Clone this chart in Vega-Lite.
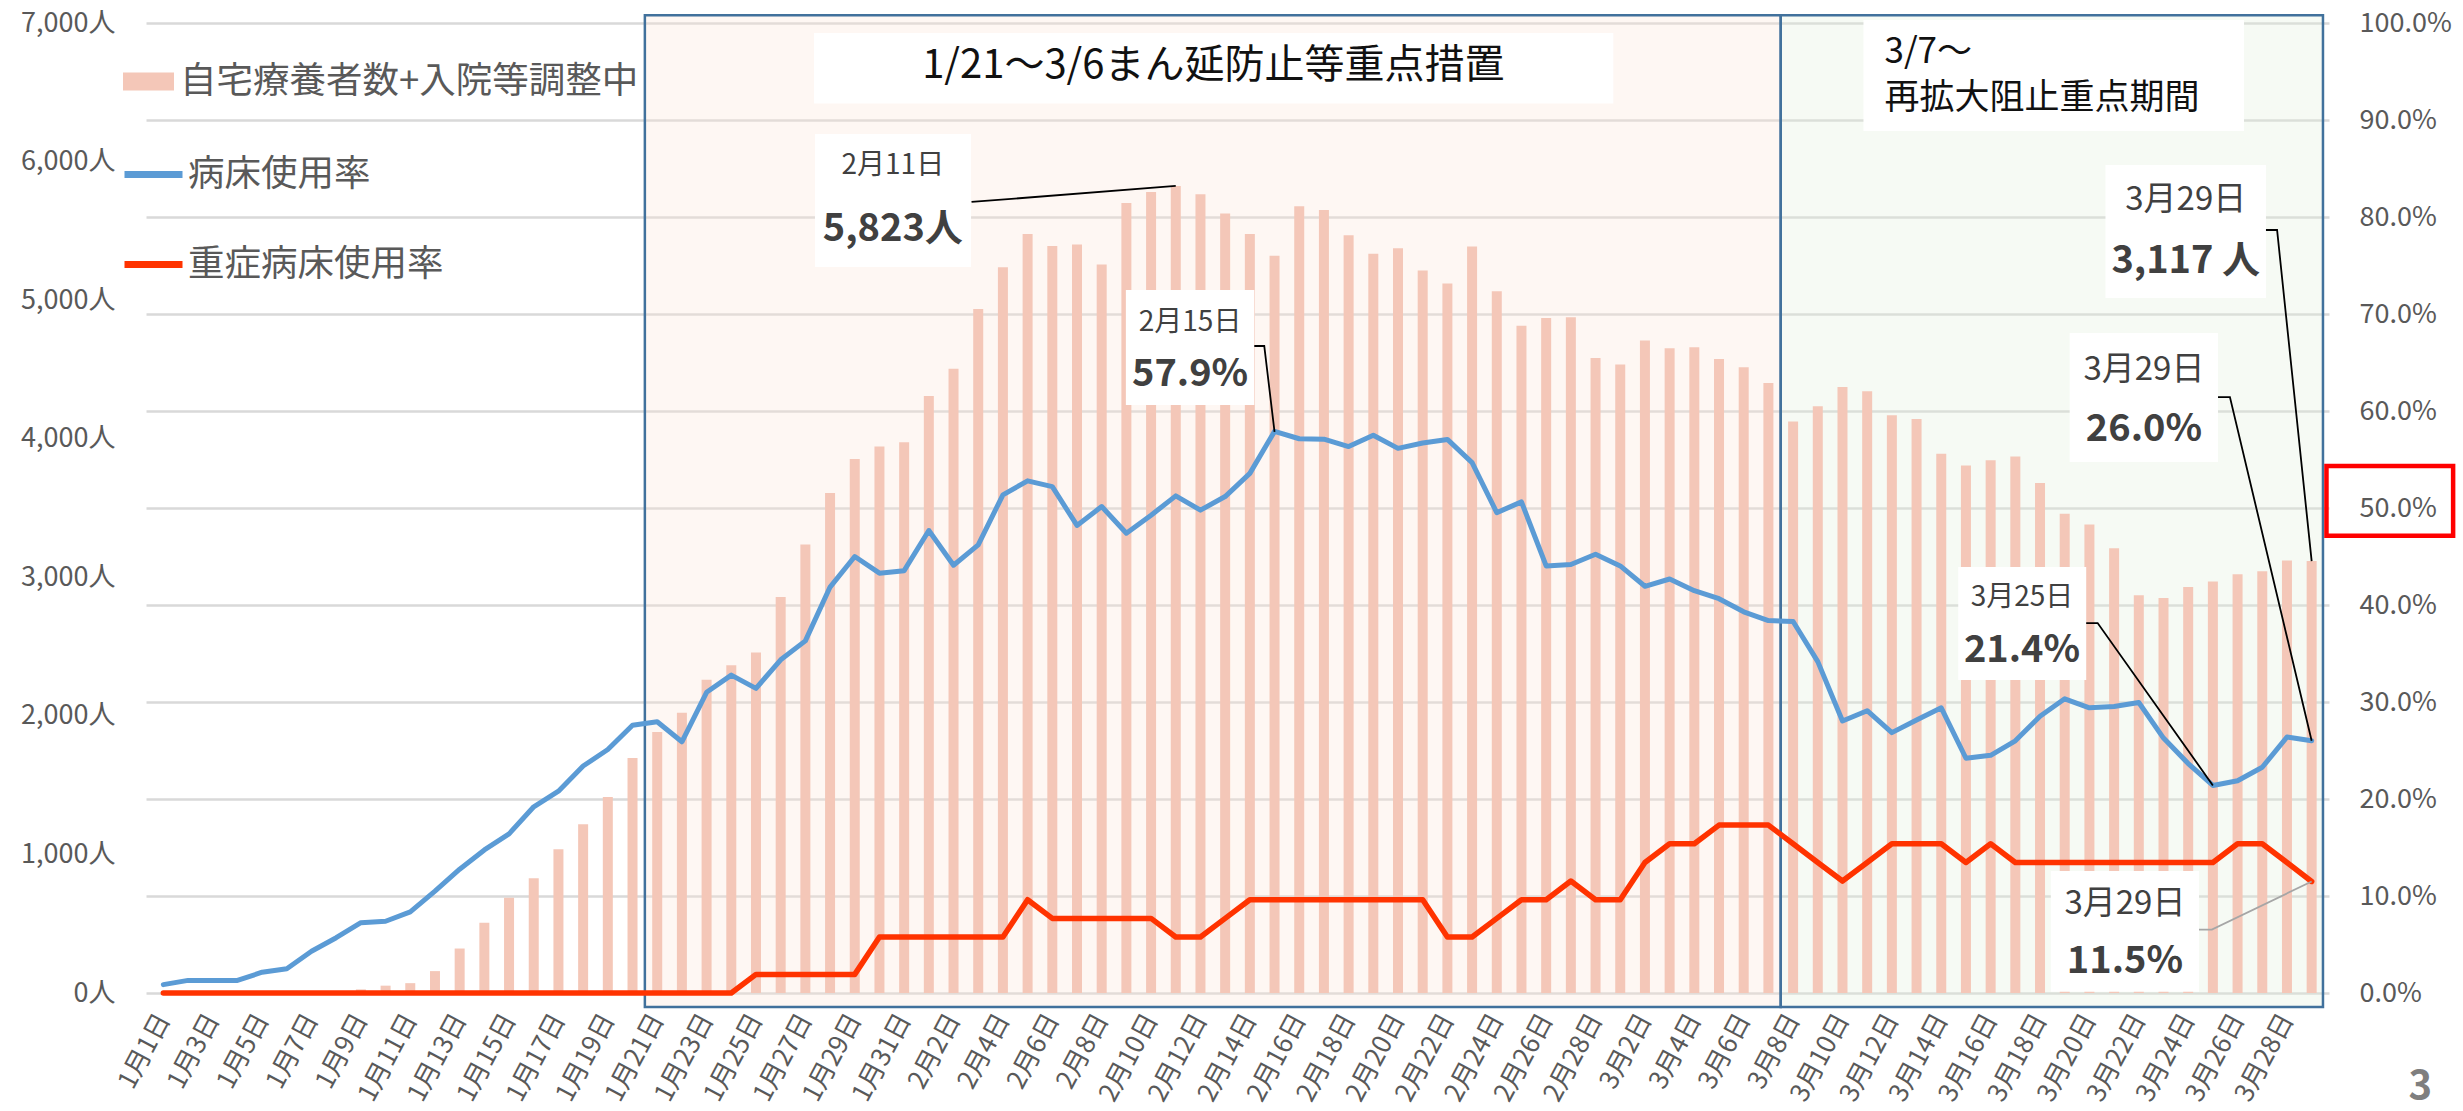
{
  "$schema": "https://vega.github.io/schema/vega-lite/v6.json",
  "width": 2183,
  "height": 970,
  "autosize": {"type": "none"},
  "padding": {"left": 146, "top": 23, "right": 134, "bottom": 118},
  "background": "white",
  "config": {"font": "Noto Sans CJK JP", "view": {"stroke": null}},
  "datasets": {
    "daily": [
      {"date": "2021-01-01", "n": 0, "bed": 0.0086, "severe": 0},
      {"date": "2021-01-02", "n": 0, "bed": 0.013, "severe": 0},
      {"date": "2021-01-03", "n": 0, "bed": 0.013, "severe": 0},
      {"date": "2021-01-04", "n": 0, "bed": 0.013, "severe": 0},
      {"date": "2021-01-05", "n": 0, "bed": 0.0214, "severe": 0},
      {"date": "2021-01-06", "n": 0, "bed": 0.025, "severe": 0},
      {"date": "2021-01-07", "n": 0, "bed": 0.043, "severe": 0},
      {"date": "2021-01-08", "n": 0, "bed": 0.057, "severe": 0},
      {"date": "2021-01-09", "n": 26, "bed": 0.0725, "severe": 0},
      {"date": "2021-01-10", "n": 53, "bed": 0.074, "severe": 0},
      {"date": "2021-01-11", "n": 71, "bed": 0.0837, "severe": 0},
      {"date": "2021-01-12", "n": 158, "bed": 0.105, "severe": 0},
      {"date": "2021-01-13", "n": 321, "bed": 0.1276, "severe": 0},
      {"date": "2021-01-14", "n": 507, "bed": 0.1475, "severe": 0},
      {"date": "2021-01-15", "n": 688, "bed": 0.164, "severe": 0},
      {"date": "2021-01-16", "n": 828, "bed": 0.192, "severe": 0},
      {"date": "2021-01-17", "n": 1038, "bed": 0.208, "severe": 0},
      {"date": "2021-01-18", "n": 1217, "bed": 0.234, "severe": 0},
      {"date": "2021-01-19", "n": 1414, "bed": 0.251, "severe": 0},
      {"date": "2021-01-20", "n": 1695, "bed": 0.276, "severe": 0},
      {"date": "2021-01-21", "n": 1884, "bed": 0.2797, "severe": 0},
      {"date": "2021-01-22", "n": 2023, "bed": 0.259, "severe": 0},
      {"date": "2021-01-23", "n": 2260, "bed": 0.31, "severe": 0},
      {"date": "2021-01-24", "n": 2365, "bed": 0.3277, "severe": 0},
      {"date": "2021-01-25", "n": 2457, "bed": 0.314, "severe": 0.0192},
      {"date": "2021-01-26", "n": 2857, "bed": 0.3435, "severe": 0.0192},
      {"date": "2021-01-27", "n": 3237, "bed": 0.363, "severe": 0.0192},
      {"date": "2021-01-28", "n": 3608, "bed": 0.4185, "severe": 0.0192},
      {"date": "2021-01-29", "n": 3853, "bed": 0.45, "severe": 0.0192},
      {"date": "2021-01-30", "n": 3943, "bed": 0.4328, "severe": 0.0577},
      {"date": "2021-01-31", "n": 3974, "bed": 0.4354, "severe": 0.0577},
      {"date": "2021-02-01", "n": 4309, "bed": 0.4768, "severe": 0.0577},
      {"date": "2021-02-02", "n": 4505, "bed": 0.441, "severe": 0.0577},
      {"date": "2021-02-03", "n": 4936, "bed": 0.462, "severe": 0.0577},
      {"date": "2021-02-04", "n": 5237, "bed": 0.5136, "severe": 0.0577},
      {"date": "2021-02-05", "n": 5477, "bed": 0.528, "severe": 0.0962},
      {"date": "2021-02-06", "n": 5391, "bed": 0.522, "severe": 0.0769},
      {"date": "2021-02-07", "n": 5401, "bed": 0.482, "severe": 0.0769},
      {"date": "2021-02-08", "n": 5258, "bed": 0.5015, "severe": 0.0769},
      {"date": "2021-02-09", "n": 5701, "bed": 0.474, "severe": 0.0769},
      {"date": "2021-02-10", "n": 5781, "bed": 0.4926, "severe": 0.0769},
      {"date": "2021-02-11", "n": 5823, "bed": 0.5125, "severe": 0.0577},
      {"date": "2021-02-12", "n": 5765, "bed": 0.4978, "severe": 0.0577},
      {"date": "2021-02-13", "n": 5626, "bed": 0.5118, "severe": 0.0769},
      {"date": "2021-02-14", "n": 5477, "bed": 0.5357, "severe": 0.0962},
      {"date": "2021-02-15", "n": 5321, "bed": 0.579, "severe": 0.0962},
      {"date": "2021-02-16", "n": 5678, "bed": 0.5714, "severe": 0.0962},
      {"date": "2021-02-17", "n": 5651, "bed": 0.571, "severe": 0.0962},
      {"date": "2021-02-18", "n": 5469, "bed": 0.5633, "severe": 0.0962},
      {"date": "2021-02-19", "n": 5335, "bed": 0.575, "severe": 0.0962},
      {"date": "2021-02-20", "n": 5374, "bed": 0.5615, "severe": 0.0962},
      {"date": "2021-02-21", "n": 5214, "bed": 0.567, "severe": 0.0962},
      {"date": "2021-02-22", "n": 5121, "bed": 0.5707, "severe": 0.0577},
      {"date": "2021-02-23", "n": 5387, "bed": 0.5468, "severe": 0.0577},
      {"date": "2021-02-24", "n": 5065, "bed": 0.4952, "severe": 0.0769},
      {"date": "2021-02-25", "n": 4815, "bed": 0.5063, "severe": 0.0962},
      {"date": "2021-02-26", "n": 4871, "bed": 0.4403, "severe": 0.0962},
      {"date": "2021-02-27", "n": 4876, "bed": 0.4418, "severe": 0.1154},
      {"date": "2021-02-28", "n": 4582, "bed": 0.4523, "severe": 0.0962},
      {"date": "2021-03-01", "n": 4536, "bed": 0.4403, "severe": 0.0962},
      {"date": "2021-03-02", "n": 4709, "bed": 0.4193, "severe": 0.1346},
      {"date": "2021-03-03", "n": 4652, "bed": 0.4268, "severe": 0.1538},
      {"date": "2021-03-04", "n": 4660, "bed": 0.4148, "severe": 0.1538},
      {"date": "2021-03-05", "n": 4575, "bed": 0.4065, "severe": 0.1731},
      {"date": "2021-03-06", "n": 4515, "bed": 0.393, "severe": 0.1731},
      {"date": "2021-03-07", "n": 4402, "bed": 0.384, "severe": 0.1731},
      {"date": "2021-03-08", "n": 4124, "bed": 0.383, "severe": 0.1538},
      {"date": "2021-03-09", "n": 4234, "bed": 0.3416, "severe": 0.1346},
      {"date": "2021-03-10", "n": 4374, "bed": 0.2804, "severe": 0.1154},
      {"date": "2021-03-11", "n": 4343, "bed": 0.291, "severe": 0.1346},
      {"date": "2021-03-12", "n": 4170, "bed": 0.2684, "severe": 0.1538},
      {"date": "2021-03-13", "n": 4142, "bed": 0.2815, "severe": 0.1538},
      {"date": "2021-03-14", "n": 3892, "bed": 0.294, "severe": 0.1538},
      {"date": "2021-03-15", "n": 3807, "bed": 0.242, "severe": 0.1346},
      {"date": "2021-03-16", "n": 3845, "bed": 0.245, "severe": 0.1538},
      {"date": "2021-03-17", "n": 3871, "bed": 0.26, "severe": 0.1346},
      {"date": "2021-03-18", "n": 3680, "bed": 0.2853, "severe": 0.1346},
      {"date": "2021-03-19", "n": 3459, "bed": 0.3033, "severe": 0.1346},
      {"date": "2021-03-20", "n": 3381, "bed": 0.294, "severe": 0.1346},
      {"date": "2021-03-21", "n": 3209, "bed": 0.2954, "severe": 0.1346},
      {"date": "2021-03-22", "n": 2871, "bed": 0.2995, "severe": 0.1346},
      {"date": "2021-03-23", "n": 2851, "bed": 0.2628, "severe": 0.1346},
      {"date": "2021-03-24", "n": 2930, "bed": 0.2365, "severe": 0.1346},
      {"date": "2021-03-25", "n": 2969, "bed": 0.214, "severe": 0.1346},
      {"date": "2021-03-26", "n": 3022, "bed": 0.2188, "severe": 0.1538},
      {"date": "2021-03-27", "n": 3043, "bed": 0.2327, "severe": 0.1538},
      {"date": "2021-03-28", "n": 3122, "bed": 0.2639, "severe": 0.1346},
      {"date": "2021-03-29", "n": 3117, "bed": 0.26, "severe": 0.115}
    ],
    "boxes": [
      {"x1": "2021-01-27T08:24:00Z", "x2": "2021-02-28T17:17:00Z", "y1": 0.9897, "y2": 0.9169},
      {"x1": "2021-03-10T20:24:00Z", "x2": "2021-03-26T06:14:00Z", "y1": 1.003, "y2": 0.8887},
      {"x1": "2021-01-27T09:20:00Z", "x2": "2021-02-02T17:02:00Z", "y1": 0.8856, "y2": 0.7485},
      {"x1": "2021-02-08T23:30:00Z", "x2": "2021-02-14T04:20:00Z", "y1": 0.7247, "y2": 0.6062},
      {"x1": "2021-03-20T15:36:00Z", "x2": "2021-03-27T03:36:00Z", "y1": 0.8536, "y2": 0.7165},
      {"x1": "2021-03-19T04:48:00Z", "x2": "2021-03-25T05:00:00Z", "y1": 0.6804, "y2": 0.5474},
      {"x1": "2021-03-14T16:30:00Z", "x2": "2021-03-19T20:53:00Z", "y1": 0.4392, "y2": 0.3227},
      {"x1": "2021-03-18T10:30:00Z", "x2": "2021-03-24T10:30:00Z", "y1": 0.1258, "y2": 0.0014}
    ],
    "callouts": [
      {"g": "c", "o": 1, "x": "2021-02-02T17:30:00Z", "y": 0.8155},
      {"g": "c", "o": 2, "x": "2021-02-11T00:00:00Z", "y": 0.832},
      {"g": "d", "o": 1, "x": "2021-02-14T04:20:00Z", "y": 0.667},
      {"g": "d", "o": 2, "x": "2021-02-14T14:00:00Z", "y": 0.667},
      {"g": "d", "o": 3, "x": "2021-02-15T00:00:00Z", "y": 0.5784},
      {"g": "e", "o": 1, "x": "2021-03-27T03:36:00Z", "y": 0.7866},
      {"g": "e", "o": 2, "x": "2021-03-27T14:24:00Z", "y": 0.7866},
      {"g": "e", "o": 3, "x": "2021-03-29T00:00:00Z", "y": 0.4453},
      {"g": "f", "o": 1, "x": "2021-03-25T05:00:00Z", "y": 0.6144},
      {"g": "f", "o": 2, "x": "2021-03-25T16:34:00Z", "y": 0.6144},
      {"g": "f", "o": 3, "x": "2021-03-29T00:00:00Z", "y": 0.26},
      {"g": "g", "o": 1, "x": "2021-03-19T20:53:00Z", "y": 0.3814},
      {"g": "g", "o": 2, "x": "2021-03-20T08:00:00Z", "y": 0.3814},
      {"g": "g", "o": 3, "x": "2021-03-25T00:00:00Z", "y": 0.214}
    ],
    "calloutGray": [
      {"o": 1, "x": "2021-03-24T10:30:00Z", "y": 0.0653},
      {"o": 2, "x": "2021-03-24T23:00:00Z", "y": 0.0653},
      {"o": 3, "x": "2021-03-29T00:00:00Z", "y": 0.115}
    ],
    "titleMain": [
      {"x": "2021-02-12T12:30:00Z", "y": 0.9557, "t": "1/21〜3/6まん延防止等重点措置"}
    ],
    "titleSub": [
      {"x": "2021-03-11T16:48:00Z", "y": 0.9705, "t": "3/7〜"},
      {"x": "2021-03-11T16:48:00Z", "y": 0.9225, "t": "再拡大阻止重点期間"}
    ],
    "dateSmall": [
      {"x": "2021-01-30T13:00:00Z", "y": 0.8526, "t": "2月11日"},
      {"x": "2021-02-11T13:55:00Z", "y": 0.6907, "t": "2月15日"},
      {"x": "2021-03-17T06:30:00Z", "y": 0.4072, "t": "3月25日"}
    ],
    "dateBig": [
      {"x": "2021-03-23T21:36:00Z", "y": 0.8175, "t": "3月29日"},
      {"x": "2021-03-22T05:00:00Z", "y": 0.6423, "t": "3月29日"},
      {"x": "2021-03-21T10:30:00Z", "y": 0.0918, "t": "3月29日"}
    ],
    "values": [
      {"x": "2021-01-30T13:00:00Z", "y": 0.7866, "t": "5,823人"},
      {"x": "2021-02-11T13:55:00Z", "y": 0.6371, "t": "57.9%"},
      {"x": "2021-03-23T21:36:00Z", "y": 0.7536, "t": "3,117 人"},
      {"x": "2021-03-22T05:00:00Z", "y": 0.5804, "t": "26.0%"},
      {"x": "2021-03-17T06:30:00Z", "y": 0.3526, "t": "21.4%"},
      {"x": "2021-03-21T10:30:00Z", "y": 0.032, "t": "11.5%"}
    ]
  },
  "layer": [
    {
      "layer": [
        {
          "data": {"values": [{"start": "2021-01-20T12:00:00Z", "end": "2021-03-07T12:00:00Z"}]},
          "mark": {"type": "rect", "fill": "#FBE5D6", "fillOpacity": 0.3, "stroke": "#41719C", "strokeWidth": 2.5},
          "encoding": {
            "x": {"field": "start", "type": "temporal", "title": null},
            "x2": {"field": "end", "title": null},
            "y": {"datum": 7056, "type": "quantitative"},
            "y2": {"datum": -101}
          }
        },
        {
          "data": {"values": [{"start": "2021-03-07T12:00:00Z", "end": "2021-03-29T11:00:00Z"}]},
          "mark": {"type": "rect", "fill": "#E2EFDA", "fillOpacity": 0.3, "stroke": "#41719C", "strokeWidth": 2.5},
          "encoding": {
            "x": {"field": "start", "type": "temporal", "title": null},
            "x2": {"field": "end", "title": null},
            "y": {"datum": 7056, "type": "quantitative"},
            "y2": {"datum": -101}
          }
        },
        {
          "data": {"name": "daily"},
          "mark": {"type": "bar", "size": 10},
          "encoding": {
            "x": {
              "field": "date", "type": "temporal", "title": null,
              "scale": {"type": "utc", "domain": [{"year": 2020, "month": 12, "date": 31, "hours": 12, "utc": true}, {"year": 2021, "month": 3, "date": 29, "hours": 12, "utc": true}]},
              "axis": {
                "title": null, "format": "%-m月%-d日", "labelAngle": -62, "labelFontSize": 26, "labelColor": "#595959",
                "domain": false, "ticks": false, "grid": false, "labelPadding": 22, "labelOverlap": false,
                "values": [
                  {"year": 2021, "month": 1, "date": 1, "utc": true}, {"year": 2021, "month": 1, "date": 3, "utc": true},
                  {"year": 2021, "month": 1, "date": 5, "utc": true}, {"year": 2021, "month": 1, "date": 7, "utc": true},
                  {"year": 2021, "month": 1, "date": 9, "utc": true}, {"year": 2021, "month": 1, "date": 11, "utc": true},
                  {"year": 2021, "month": 1, "date": 13, "utc": true}, {"year": 2021, "month": 1, "date": 15, "utc": true},
                  {"year": 2021, "month": 1, "date": 17, "utc": true}, {"year": 2021, "month": 1, "date": 19, "utc": true},
                  {"year": 2021, "month": 1, "date": 21, "utc": true}, {"year": 2021, "month": 1, "date": 23, "utc": true},
                  {"year": 2021, "month": 1, "date": 25, "utc": true}, {"year": 2021, "month": 1, "date": 27, "utc": true},
                  {"year": 2021, "month": 1, "date": 29, "utc": true}, {"year": 2021, "month": 1, "date": 31, "utc": true},
                  {"year": 2021, "month": 2, "date": 2, "utc": true}, {"year": 2021, "month": 2, "date": 4, "utc": true},
                  {"year": 2021, "month": 2, "date": 6, "utc": true}, {"year": 2021, "month": 2, "date": 8, "utc": true},
                  {"year": 2021, "month": 2, "date": 10, "utc": true}, {"year": 2021, "month": 2, "date": 12, "utc": true},
                  {"year": 2021, "month": 2, "date": 14, "utc": true}, {"year": 2021, "month": 2, "date": 16, "utc": true},
                  {"year": 2021, "month": 2, "date": 18, "utc": true}, {"year": 2021, "month": 2, "date": 20, "utc": true},
                  {"year": 2021, "month": 2, "date": 22, "utc": true}, {"year": 2021, "month": 2, "date": 24, "utc": true},
                  {"year": 2021, "month": 2, "date": 26, "utc": true}, {"year": 2021, "month": 2, "date": 28, "utc": true},
                  {"year": 2021, "month": 3, "date": 2, "utc": true}, {"year": 2021, "month": 3, "date": 4, "utc": true},
                  {"year": 2021, "month": 3, "date": 6, "utc": true}, {"year": 2021, "month": 3, "date": 8, "utc": true},
                  {"year": 2021, "month": 3, "date": 10, "utc": true}, {"year": 2021, "month": 3, "date": 12, "utc": true},
                  {"year": 2021, "month": 3, "date": 14, "utc": true}, {"year": 2021, "month": 3, "date": 16, "utc": true},
                  {"year": 2021, "month": 3, "date": 18, "utc": true}, {"year": 2021, "month": 3, "date": 20, "utc": true},
                  {"year": 2021, "month": 3, "date": 22, "utc": true}, {"year": 2021, "month": 3, "date": 24, "utc": true},
                  {"year": 2021, "month": 3, "date": 26, "utc": true}, {"year": 2021, "month": 3, "date": 28, "utc": true}
                ]
              }
            },
            "y": {
              "field": "n", "type": "quantitative", "title": null,
              "scale": {"domain": [0, 7000], "nice": false},
              "axis": {
                "orient": "left", "title": null, "values": [0, 1000, 2000, 3000, 4000, 5000, 6000, 7000],
                "labelExpr": "format(datum.value, ',') + '人'", "grid": false, "domain": false, "ticks": false,
                "labelPadding": 31, "labelFontSize": 27, "labelColor": "#595959"
              }
            },
            "fill": {
              "datum": "自宅療養者数+入院等調整中",
              "scale": {"range": ["#F4C7B8"]},
              "legend": {
                "orient": "none", "legendX": -23, "legendY": 33, "title": null, "padding": 0,
                "symbolType": "M-1,-0.35H1V0.35H-1Z", "symbolSize": 2601, "symbolStrokeWidth": 0,
                "labelFontSize": 36.5, "labelColor": "#595959", "labelOffset": 6, "labelLimit": 1000
              }
            }
          }
        }
      ]
    },
    {
      "layer": [
        {
          "mark": {"type": "rule", "color": "#BFBFBF", "strokeWidth": 5},
          "encoding": {"y": {"datum": 0, "type": "quantitative"}}
        },
        {
          "mark": {"type": "rule", "color": "#FF0000", "strokeWidth": 6, "strokeDash": [27, 20]},
          "encoding": {
            "x": {"datum": {"year": 2021, "month": 1, "date": 1, "utc": true}, "type": "temporal"},
            "x2": {"datum": {"year": 2021, "month": 3, "date": 29, "hours": 12, "utc": true}},
            "y": {"datum": 0.506, "type": "quantitative"}
          }
        },
        {
          "data": {"name": "daily"},
          "mark": {"type": "line", "strokeWidth": 5, "strokeJoin": "round", "strokeCap": "round"},
          "encoding": {
            "x": {"field": "date", "type": "temporal", "title": null},
            "y": {
              "field": "bed", "type": "quantitative", "title": null,
              "scale": {"domain": [0, 1], "nice": false},
              "axis": {
                "orient": "right", "title": null, "values": [0, 0.1, 0.2, 0.3, 0.4, 0.5, 0.6, 0.7, 0.8, 0.9, 1],
                "format": ".1%", "grid": true, "gridColor": "#D9D9D9", "gridWidth": 2.5,
                "domain": false, "ticks": false, "labelPadding": 30, "labelFontSize": 27, "labelColor": "#595959"
              }
            },
            "stroke": {
              "datum": "病床使用率",
              "scale": {"domain": ["病床使用率", "重症病床使用率"], "range": ["#5B9BD5", "#FF3300"]},
              "legend": {
                "orient": "none", "legendX": -25, "legendY": 119, "title": null, "padding": 0,
                "symbolType": "stroke", "symbolSize": 3364, "symbolStrokeWidth": 7,
                "labelFontSize": 36.5, "labelColor": "#595959", "labelOffset": 2, "labelLimit": 1000, "rowPadding": 39
              }
            }
          }
        },
        {
          "data": {"name": "daily"},
          "mark": {"type": "line", "strokeWidth": 5.5, "strokeJoin": "round", "strokeCap": "round"},
          "encoding": {
            "x": {"field": "date", "type": "temporal", "title": null},
            "y": {"field": "severe", "type": "quantitative", "title": null},
            "stroke": {"datum": "重症病床使用率"}
          }
        },
        {
          "data": {"name": "boxes"},
          "mark": {"type": "rect", "fill": "white"},
          "encoding": {
            "x": {"field": "x1", "type": "temporal", "title": null},
            "x2": {"field": "x2", "title": null},
            "y": {"field": "y1", "type": "quantitative", "title": null},
            "y2": {"field": "y2", "title": null}
          }
        },
        {
          "data": {"name": "callouts"},
          "mark": {"type": "line", "color": "#000000", "strokeWidth": 1.8},
          "encoding": {
            "x": {"field": "x", "type": "temporal", "title": null},
            "y": {"field": "y", "type": "quantitative", "title": null},
            "detail": {"field": "g"},
            "order": {"field": "o"}
          }
        },
        {
          "data": {"name": "calloutGray"},
          "mark": {"type": "line", "color": "#A6A6A6", "strokeWidth": 1.8},
          "encoding": {
            "x": {"field": "x", "type": "temporal", "title": null},
            "y": {"field": "y", "type": "quantitative", "title": null},
            "order": {"field": "o"}
          }
        },
        {
          "data": {"name": "titleMain"},
          "mark": {"type": "text", "fontSize": 40, "color": "#111111", "align": "center", "baseline": "middle"},
          "encoding": {
            "x": {"field": "x", "type": "temporal", "title": null},
            "y": {"field": "y", "type": "quantitative", "title": null},
            "text": {"field": "t"}
          }
        },
        {
          "data": {"name": "titleSub"},
          "mark": {"type": "text", "fontSize": 35, "color": "#111111", "align": "left", "baseline": "middle"},
          "encoding": {
            "x": {"field": "x", "type": "temporal", "title": null},
            "y": {"field": "y", "type": "quantitative", "title": null},
            "text": {"field": "t"}
          }
        },
        {
          "data": {"name": "dateSmall"},
          "mark": {"type": "text", "fontSize": 28, "color": "#404040", "align": "center", "baseline": "middle"},
          "encoding": {
            "x": {"field": "x", "type": "temporal", "title": null},
            "y": {"field": "y", "type": "quantitative", "title": null},
            "text": {"field": "t"}
          }
        },
        {
          "data": {"name": "dateBig"},
          "mark": {"type": "text", "fontSize": 33, "color": "#404040", "align": "center", "baseline": "middle"},
          "encoding": {
            "x": {"field": "x", "type": "temporal", "title": null},
            "y": {"field": "y", "type": "quantitative", "title": null},
            "text": {"field": "t"}
          }
        },
        {
          "data": {"name": "values"},
          "mark": {"type": "text", "fontSize": 38, "fontWeight": "bold", "color": "#404040", "align": "center", "baseline": "middle"},
          "encoding": {
            "x": {"field": "x", "type": "temporal", "title": null},
            "y": {"field": "y", "type": "quantitative", "title": null},
            "text": {"field": "t"}
          }
        },
        {
          "data": {"values": [{"x1": "2021-03-29T14:24:00Z", "x2": "2021-04-03T17:30:00Z", "y1": 0.5433, "y2": 0.4714}]},
          "mark": {"type": "rect", "fill": null, "fillOpacity": 0, "stroke": "#FF0000", "strokeWidth": 4.5},
          "encoding": {
            "x": {"field": "x1", "type": "temporal", "title": null},
            "x2": {"field": "x2", "title": null},
            "y": {"field": "y1", "type": "quantitative", "title": null},
            "y2": {"field": "y2", "title": null}
          }
        },
        {
          "data": {"values": [{"x": "2021-04-02T09:36:00Z", "y": -0.097, "t": "3"}]},
          "mark": {"type": "text", "fontSize": 40, "fontWeight": "bold", "color": "#7F7F7F", "align": "center", "baseline": "middle"},
          "encoding": {
            "x": {"field": "x", "type": "temporal", "title": null},
            "y": {"field": "y", "type": "quantitative", "title": null},
            "text": {"field": "t"}
          }
        }
      ]
    }
  ],
  "resolve": {"scale": {"y": "independent"}}
}
